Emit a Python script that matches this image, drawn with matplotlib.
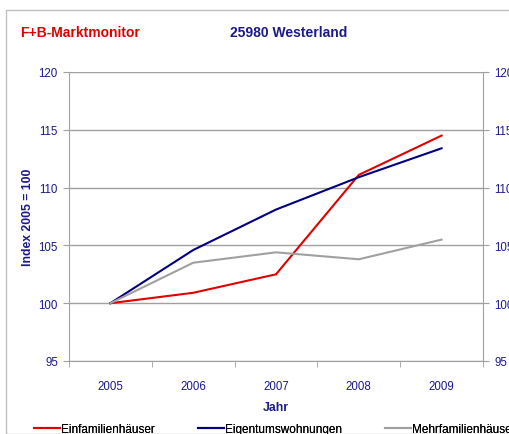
import matplotlib
matplotlib.use("Agg")
import matplotlib.pyplot as plt
from matplotlib.patches import Rectangle
from matplotlib.lines import Line2D

plt.rcParams['font.family'] = ['Liberation Sans', 'DejaVu Sans']

years = ["2005", "2006", "2007", "2008", "2009"]
einfamilien = [100.0, 100.9, 102.5, 111.1, 114.5]
eigentum = [100.0, 104.6, 108.1, 110.9, 113.4]
mehrfamilien = [100.0, 103.5, 104.4, 103.8, 105.5]
series_names = ["Einfamilienhäuser", "Eigentumswohnungen", "Mehrfamilienhäuser"]

navy = "#1a1a8c"
gridc = "#a0a0a0"

fig = plt.figure(figsize=(5.1, 4.35), dpi=100)
ax = fig.add_axes([69/510, 1 - 362/435, (483-69)/510, (362-73)/435])

x = list(range(len(years)))
colors = ["#e00000", "#000080", "#a0a0a0"]
for vals, c in zip([einfamilien, eigentum, mehrfamilien], colors):
    ax.plot(x, vals, color=c, lw=1.5, solid_joinstyle="miter")

ax.set_xlim(-0.5, 4.5)
ax.set_ylim(95, 120)
ax.set_yticks(range(95, 121, 5))
ax.set_xticks(x)
ax.set_xticklabels(years)
ax.set_xticks([i - 0.5 for i in range(6)], minor=True)
ax.tick_params(axis="x", which="major", length=0, labelsize=8.3, labelcolor=navy, pad=14)
ax.tick_params(axis="x", which="minor", length=4, color=gridc)
ax.tick_params(axis="y", length=4, color=gridc, labelsize=8.3, labelcolor=navy, pad=4)
ax.grid(axis="y", color=gridc, lw=1)
for s in ["left", "right", "bottom"]:
    ax.spines[s].set_color(gridc)
ax.spines["top"].set_visible(False)
ax.set_axisbelow(True)

ax2 = ax.twinx()
ax2.set_ylim(95, 120)
ax2.set_yticks(range(95, 121, 5))
ax2.tick_params(axis="y", length=4, color=gridc, labelsize=8.3, labelcolor=navy, pad=4)
for s in ax2.spines.values():
    s.set_visible(False)

ax.set_ylabel("Index 2005 = 100", fontsize=8.8, fontweight="bold", color=navy, labelpad=3)
ax.set_xlabel("Jahr", fontsize=8.8, fontweight="bold", color=navy, labelpad=6)

fig.text(20/510, 1 - 33/435, "F+B-Marktmonitor", color="#e00000", fontsize=10,
         fontweight="bold", va="center")
fig.text(230/510, 1 - 33/435, "25980 Westerland", color="#1a1a8c", fontsize=10,
         fontweight="bold", va="center")

fig.add_artist(Rectangle((6/510, 0), 1, 1 - 11/435, transform=fig.transFigure,
                         fill=False, edgecolor="#c0c0c0", lw=1))

leg_x = [35, 199, 386]
for name, c, lx in zip(series_names, colors, leg_x):
    h = Line2D([], [], color=c, lw=1.5)
    leg = fig.legend([h], [name], loc="center left", bbox_to_anchor=(lx/510 - 0.012, 1 - 430/435),
                     frameon=False, fontsize=8.5, handlelength=2.2, handletextpad=0.1,
                     borderaxespad=0)
    fig.add_artist(leg)

fig.savefig("out.png", dpi=100)
